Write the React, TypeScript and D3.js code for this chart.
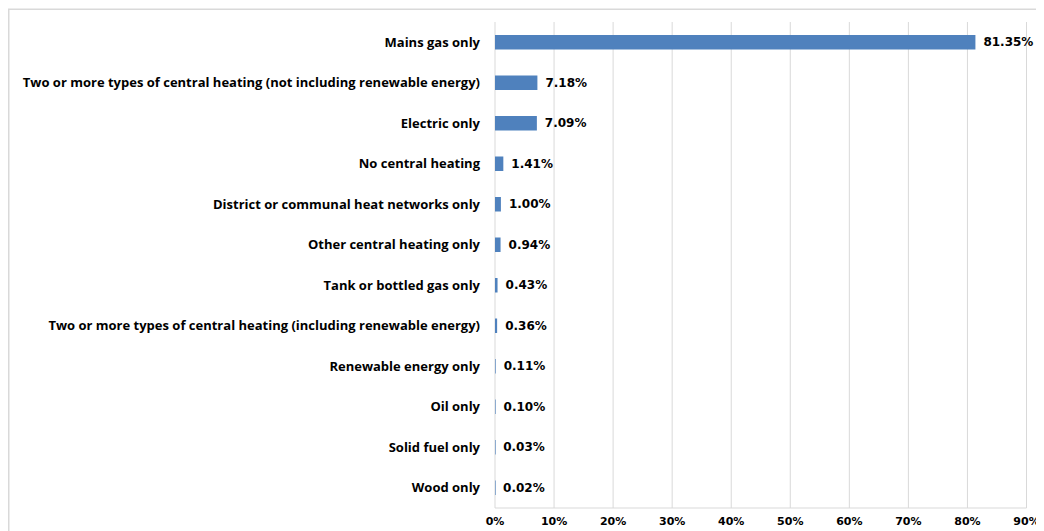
import React from "react";
import * as d3 from "d3";

const categories = [
  "Mains gas only",
  "Two or more types of central heating (not including renewable energy)",
  "Electric only",
  "No central heating",
  "District or communal heat networks only",
  "Other central heating only",
  "Tank or bottled gas only",
  "Two or more types of central heating (including renewable energy)",
  "Renewable energy only",
  "Oil only",
  "Solid fuel only",
  "Wood only",
];
const values = [81.35, 7.18, 7.09, 1.41, 1.0, 0.94, 0.43, 0.36, 0.11, 0.1, 0.03, 0.02];
const ticks = [0, 10, 20, 30, 40, 50, 60, 70, 80, 90];

export default function App() {
  const W = 1036;
  const H = 523;
  const off = 8;
  const x = d3.scaleLinear().domain([0, 90]).range([495 - off, 1026.5 - off]);
  const band = (508 - 22) / categories.length;
  const grid = "#d9d9d9";
  return (
    <svg width={W} height={H} style={{ display: "block" }}>
      <rect x={0.75} y={1.25} width={W + 10} height={H + 10} fill="#fff" stroke="#d9d9d9" strokeWidth={1.5} />
      {ticks.map((t) => (
        <line key={t} x1={x(t)} x2={x(t)} y1={22 - off} y2={508 - off} stroke={grid} strokeWidth={1} />
      ))}
      <line x1={x(0)} x2={x(90)} y1={508 - off} y2={508 - off} stroke={grid} strokeWidth={1} />
      {categories.map((c, i) => {
        const cy = 22 - off + band * (i + 0.5);
        const bw = x(values[i]) - x(0);
        return (
          <g key={c}>
            <rect x={x(0)} y={cy - 7.25} width={Math.max(bw, 0.6)} height={14.5} fill="#4F81BD" />
            <text x={480 - off} y={cy} dy="0.35em" textAnchor="end" fontFamily="'Open Sans', sans-serif" fontWeight="bold" fontSize={13} fill="#000">
              {c}
            </text>
            <text x={x(values[i]) + 8} y={cy} dy="0.35em" fontFamily="'DejaVu Sans', sans-serif" fontWeight="bold" fontSize={12} fill="#000">
              {values[i].toFixed(2) + "%"}
            </text>
          </g>
        );
      })}
      {ticks.map((t) => (
        <text key={"l" + t} x={x(t)} y={521 - off} dy="0.35em" textAnchor="middle" fontFamily="'DejaVu Sans', sans-serif" fontWeight="bold" fontSize={11} fill="#000">
          {t + "%"}
        </text>
      ))}
    </svg>
  );
}
